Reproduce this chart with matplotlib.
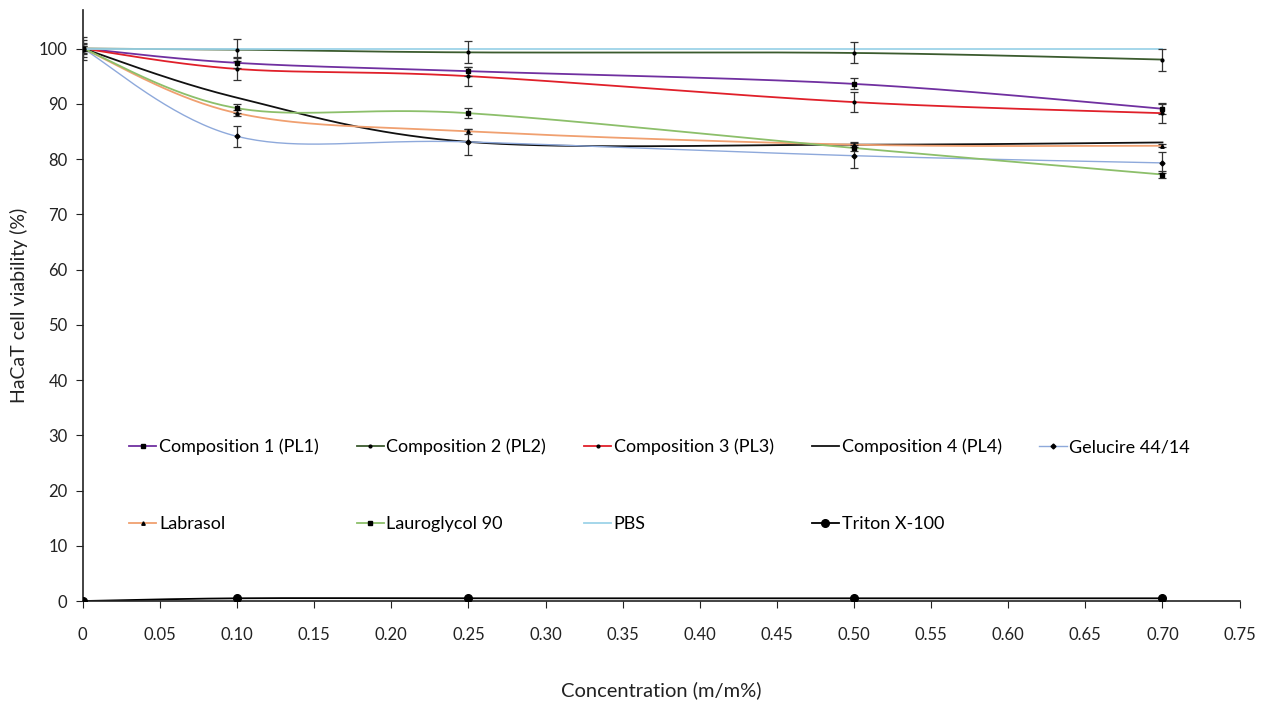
import numpy as np
import matplotlib
matplotlib.use("Agg")
import matplotlib.pyplot as plt
from matplotlib.lines import Line2D

plt.rcParams['font.family'] = ['Lato', 'DejaVu Sans']

conc = [0, 0.10, 0.25, 0.50, 0.70]
series_names = ["Composition 1 (PL1)", "Composition 2 (PL2)", "Composition 3 (PL3)",
                "Composition 4 (PL4)", "Gelucire 44/14", "Labrasol", "Lauroglycol 90",
                "PBS", "Triton X-100"]
pl1 = [100, 97.4, 95.9, 93.6, 89.1]
pl1_err = [0.8, 1.0, 0.8, 1.0, 1.0]
pl2 = [100, 99.8, 99.3, 99.2, 98.0]
pl2_err = [1.5, 2.0, 2.0, 1.9, 2.0]
pl3 = [100, 96.3, 95.0, 90.3, 88.3]
pl3_err = [0.5, 2.0, 1.7, 1.8, 1.7]
pl4 = [100, 91.1, 83.1, 82.6, 83.0]
pl4_err = [0, 0, 0, 0, 0]
gelucire = [100, 84.1, 83.1, 80.6, 79.3]
gelucire_err = [2.0, 1.9, 2.3, 2.3, 1.9]
labrasol = [100, 88.3, 85.0, 82.6, 82.4]
labrasol_err = [0.5, 0.5, 0.5, 0.5, 0.3]
lauroglycol = [100, 89.2, 88.3, 82.0, 77.2]
lauroglycol_err = [1.0, 0.8, 0.9, 0.5, 0.7]
pbs = [100, 100, 100, 100, 100]
pbs_err = [0, 0, 0, 0, 0]
triton = [0, 0.5, 0.5, 0.5, 0.5]
triton_err = [0, 0, 0, 0, 0]

x_ticks = [0, 0.05, 0.10, 0.15, 0.20, 0.25, 0.30, 0.35, 0.40, 0.45, 0.50, 0.55, 0.60, 0.65, 0.70, 0.75]
x_tick_labels = ["0", "0.05", "0.10", "0.15", "0.20", "0.25", "0.30", "0.35", "0.40", "0.45",
                 "0.50", "0.55", "0.60", "0.65", "0.70", "0.75"]
y_ticks = [0, 10, 20, 30, 40, 50, 60, 70, 80, 90, 100]

data = [pl1, pl2, pl3, pl4, gelucire, labrasol, lauroglycol, pbs, triton]
errs = [pl1_err, pl2_err, pl3_err, pl4_err, gelucire_err, labrasol_err, lauroglycol_err, pbs_err, triton_err]
colors = ["#7030A0", "#3B5B2E", "#E0202A", "#111111", "#8EA9DB", "#F0A070", "#8CBF6A", "#9DD3E8", "#000000"]
markers = ["s", "o", "o", None, "D", "^", "s", None, "o"]
msizes = [3, 2, 2, 0, 2.5, 2.5, 3, 0, 5.5]
lws = [1.3, 1.3, 1.3, 1.3, 1.0, 1.3, 1.3, 1.3, 1.3]


def smooth_curve(x, y, n=40):
    p = np.column_stack([np.asarray(x, float), np.asarray(y, float)])
    ext = np.vstack([p[0], p, p[-1]])
    out = []
    t = np.linspace(0, 1, n)[:, None]
    for i in range(len(p) - 1):
        p0, p1, p2, p3 = ext[i], ext[i + 1], ext[i + 2], ext[i + 3]
        c1 = p1 + (p2 - p0) / 6.0
        c2 = p2 - (p3 - p1) / 6.0
        seg = ((1 - t) ** 3) * p1 + 3 * ((1 - t) ** 2) * t * c1 + 3 * (1 - t) * t ** 2 * c2 + t ** 3 * p2
        out.append(seg if i == 0 else seg[1:])
    s = np.vstack(out)
    return s[:, 0], s[:, 1]


fig = plt.figure(figsize=(12.74, 7.03), dpi=100)
ax = fig.add_axes([0.065, 0.145, 0.908, 0.841])

handles = []
for name, y, e, c, m, ms, lw in zip(series_names, data, errs, colors, markers, msizes, lws):
    sx, sy = smooth_curve(conc, y)
    ax.plot(sx, sy, color=c, lw=lw, zorder=2)
    if any(v > 0 for v in e):
        ax.errorbar(conc, y, yerr=e, fmt='none', ecolor='#333333', elinewidth=0.9,
                    capsize=3, capthick=0.9, zorder=3)
    if m is not None:
        ax.plot(conc, y, linestyle='none', marker=m, markersize=ms, color='black', zorder=4)
    handles.append(Line2D([0], [0], color=c, lw=lw, marker=m if m else None,
                          markersize=ms, markerfacecolor='black', markeredgecolor='black'))

ax.set_xlim(0, 0.75)
ax.set_ylim(0, 107)
ax.set_xticks(x_ticks)
ax.set_xticklabels(x_tick_labels)
ax.set_yticks(y_ticks)
for s in ['top', 'right']:
    ax.spines[s].set_visible(False)
for s in ['left', 'bottom']:
    ax.spines[s].set_linewidth(1.2)
    ax.spines[s].set_color('#222222')
ax.tick_params(axis='x', direction='out', length=5, pad=14, labelsize=12, colors='#222222')
ax.tick_params(axis='y', direction='out', length=5, pad=6, labelsize=12, colors='#222222')

ax.set_xlabel("Concentration (m/m%)", fontsize=14.5, color='#222222')
ax.xaxis.set_label_coords(0.5, -0.135)
ax.set_ylabel("HaCaT cell viability (%)", fontsize=14, color='#222222')
ax.yaxis.set_label_coords(-0.047, 0.5)

# matplotlib fills legend columns first; reorder so rows read as in the reference
order = [0, 5, 1, 6, 2, 7, 3, 8, 4]
leg = ax.legend([handles[i] for i in order], [series_names[i] for i in order], ncol=5,
                loc='upper left', bbox_to_anchor=(0.026, 0.302), frameon=False, fontsize=13,
                handlelength=1.5, handletextpad=0.15, columnspacing=2.1,
                labelspacing=3.38)

fig.savefig("out.png", dpi=100)
